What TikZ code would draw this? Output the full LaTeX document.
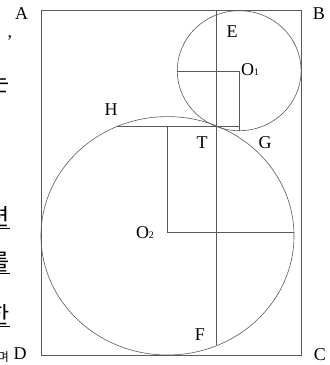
\documentclass[tikz,border=0pt]{standalone}
\usepackage{fontspec}
\setmainfont{Liberation Serif}
\newfontfamily\krfont{Noto Sans CJK KR}
\begin{document}
\begin{tikzpicture}[x=1pt,y=-1pt,
  geo/.style={draw=black!65,line width=0.6pt},
  lab/.style={inner sep=0pt,font=\fontsize{18}{19}\selectfont},
  kr/.style={inner sep=0pt,anchor=east,font=\krfont\fontsize{23}{24}\selectfont}]
\useasboundingbox (0,0) rectangle (330,365);
% frame corners
\coordinate (pA) at (41,10.5);
\coordinate (pB) at (301.5,10.5);
\coordinate (pC) at (301.5,355);
\coordinate (pD) at (41,355);
\coordinate (pE) at (216.7,10.5);
\coordinate (pF) at (216.7,344.5);
\coordinate (pT) at (216.7,126.7);
\coordinate (pH) at (116.7,126.7);
\coordinate (pK) at (239.3,126.7);
\coordinate (pO1) at (239.3,71);
\coordinate (pO1l) at (177.3,71);
\coordinate (pO1b) at (239.3,130.7);
\coordinate (pO2) at (167.5,232.7);
\coordinate (pO2t) at (167.5,126.7);
\coordinate (pO2r) at (294,232.7);
\coordinate (c1) at (239.2,70.7);
\coordinate (c2) at (167.5,235.8);
% shapes
\draw[geo] (pA) -- (pB) -- (pC) -- (pD) -- cycle;
\draw[geo] (c1) ellipse [x radius=61.9, y radius=60];
\draw[geo] (c2) ellipse [x radius=126.5, y radius=119.2];
\draw[geo] (pE) -- (pF);
\draw[geo] (pH) -- (pK);
\draw[geo] (pO1l) -- (pO1) -- (pO1b);
\draw[geo] (pO2t) -- (pO2) -- (pO2r);
% labels
\node[lab] (lA) at (21.5,13.5) {A};
\node[lab] (lB) at (319,13.5) {B};
\node[lab] (lC) at (320,354.5) {C};
\node[lab] (lD) at (20,354) {D};
\node[lab] (lE) at (232,31.5) {E};
\node[lab] (lO1) at (250,70) {O{\fontsize{10}{10}\selectfont 1}};
\node[lab] (lH) at (111,110) {H};
\node[lab] (lT) at (202,143) {T};
\node[lab] (lG) at (265,143) {G};
\node[lab] (lO2) at (145,233) {O{\fontsize{10}{10}\selectfont 2}};
\node[lab] (lF) at (200,335) {F};
% clipped text fragments at the left edge
\node[lab,anchor=center] (k0) at (10,38) {,};
\node[kr] (k1) at (10,83) {는};
\node[kr] (k2) at (10,218) {\underline{련}};
\node[kr] (k3) at (10,263) {\underline{를}};
\node[kr] (k4) at (10,316) {\underline{한}};
\node[kr,font=\krfont\fontsize{12}{12}\selectfont] (k5) at (9,357) {며};
\end{tikzpicture}
\end{document}
